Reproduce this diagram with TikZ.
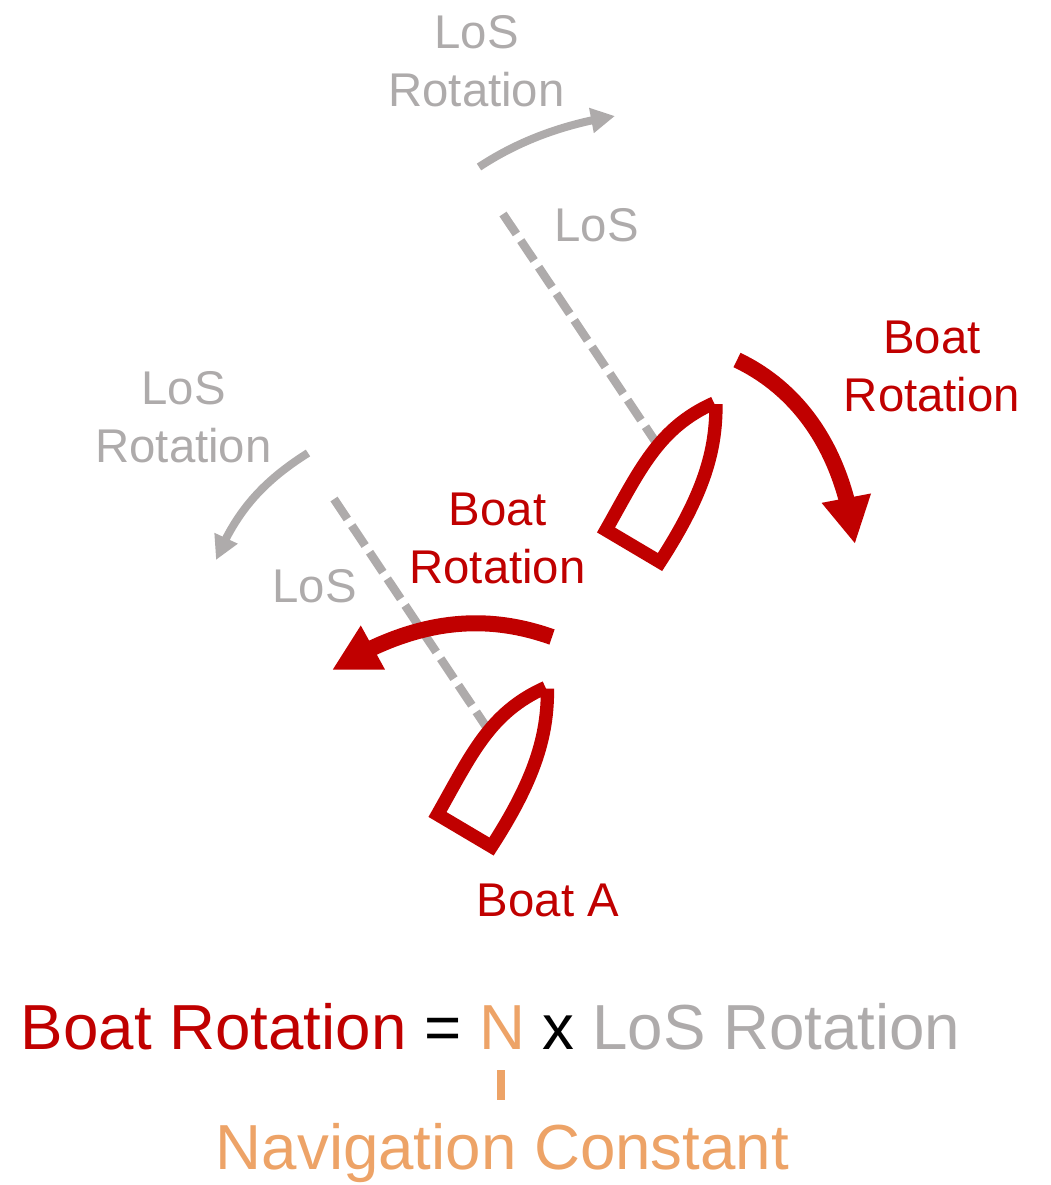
\documentclass[tikz,border=0pt]{standalone}
\usepackage{fontspec}
\setmainfont{Liberation Sans}
\usetikzlibrary{arrows.meta,bending}
\definecolor{redc}{HTML}{C00000}
\definecolor{grayc}{HTML}{AEABAB}
\definecolor{orangec}{HTML}{EDA367}
\newcommand{\smallfs}{\fontsize{35.5pt}{43.5pt}\selectfont}
\newcommand{\bigfs}{\fontsize{47.75pt}{57pt}\selectfont}
\tikzset{
  x=0.75pt,y=-0.75pt,
  lbl/.style={inner sep=0pt,align=center,font=\smallfs},
  biglbl/.style={inner sep=0pt,font=\bigfs},
  sightline/.style={draw=grayc,line width=6.4pt,dash pattern=on 18pt off 6pt},
  redarrow/.style={draw=redc,line width=12pt,-{Triangle[length=35pt,width=35pt,flex]}},
  grayarrow/.style={draw=grayc,line width=6pt,-{Triangle[length=18pt,width=18pt,flex]}},
  boathull/.pic={
    \draw[redc,line width=10pt,miter limit=10]
      (0,0) .. controls (0,41) and (-8,84) .. (-56,158)
      -- (-110,126)
      .. controls (-76,66) and (-58,24) .. (-2,-1);
  }
}
\begin{document}
\begin{tikzpicture}
\useasboundingbox (0,0) rectangle (1050,1185);
% anchors
\coordinate (los1a) at (503,214);
\coordinate (los1b) at (655,441);
\coordinate (los2a) at (334,499);
\coordinate (los2b) at (487,728);
\coordinate (ra1) at (737,360);
\coordinate (rb1) at (855,544);
\coordinate (ra2) at (552,637);
\coordinate (rb2) at (332,670);
\coordinate (ga1) at (479,167);
\coordinate (gb1) at (615,116);
\coordinate (ga2) at (308,453);
\coordinate (gb2) at (216,560);
\coordinate (ntop) at (501,1070);
\coordinate (nbot) at (501,1100);
% lines of sight
\draw[sightline] (los1a) -- (los1b);
\draw[sightline] (los2a) -- (los2b);
% boats
\pic at (716,404) {boathull};
\pic at (547.5,688.5) {boathull};
% rotation arrows
\draw[redarrow] (ra1) .. controls (800,390) and (844,452) .. (rb1);
\draw[redarrow] (ra2) .. controls (490,615) and (420,615) .. (rb2);
\draw[grayarrow] (ga1) .. controls (520,140) and (565,124) .. (gb1);
\draw[grayarrow] (ga2) .. controls (262,482) and (236,512) .. (gb2);
% labels
\node[lbl,text=grayc] (lr1) at (476.5,61) {LoS\\Rotation};
\node[lbl,text=grayc] (l1) at (596.5,225) {LoS};
\node[lbl,text=grayc] (lr2) at (183.5,417) {LoS\\Rotation};
\node[lbl,text=grayc] (l2) at (314.5,586) {LoS};
\node[lbl,text=redc] (br1) at (932,366.5) {Boat\\Rotation};
\node[lbl,text=redc] (br2) at (497.5,538) {Boat\\Rotation};
\node[lbl,text=redc] (ba) at (548,900) {Boat A};
% equation
\node[biglbl,anchor=base west] (eq) at (20.5,1049)
  {\textcolor{redc}{Boat Rotation} = \textcolor{orangec}{N} x \textcolor{grayc}{LoS Rotation}};
\draw[orangec,line width=6pt] (ntop) -- (nbot);
\node[biglbl,text=orangec,anchor=base] (nc) at (502.5,1169) {Navigation Constant};
\end{tikzpicture}
\end{document}
